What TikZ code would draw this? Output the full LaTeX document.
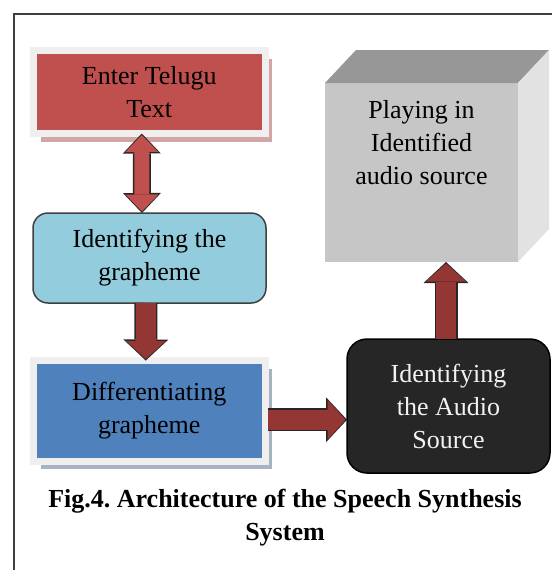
\documentclass[tikz,border=0pt]{standalone}
\usepackage{fontspec}
\setmainfont{Liberation Serif}
\usetikzlibrary{arrows.meta,shadows}
\definecolor{boxred}{HTML}{C0504D}
\definecolor{arrred}{HTML}{943634}
\definecolor{shred}{HTML}{D3A5A5}
\definecolor{boxcyan}{HTML}{93CDDD}
\definecolor{boxblue}{HTML}{4F81BD}
\definecolor{shblue}{HTML}{A8B3C2}
\definecolor{framegray}{HTML}{EFEFEF}
\definecolor{cubefront}{HTML}{C6C6C6}
\definecolor{cubetop}{HTML}{979797}
\definecolor{cubeside}{HTML}{E2E2E2}
\definecolor{darkbox}{HTML}{262626}
\frenchspacing

\begin{document}
\begin{tikzpicture}[
x=1pt, y=-1pt,
every node/.style={font=\fontsize{26}{33}\selectfont, align=center, inner sep=0pt, outer sep=0pt}
]

\tikzstyle{fr} = [draw=framegray, line width=7pt, minimum width=231.5pt]
\tikzstyle{rb} = [rounded corners=15pt, draw=black!75, line width=1.5pt]
\tikzstyle{blk} = [rounded corners=20pt, draw=black, line width=1.5pt, fill=darkbox, text=white!95!black]
\tikzstyle{arr} = [line width=20pt, draw=arrred, shorten >=1.5pt,
  -{Triangle[width=40pt,length=18pt,line width=0pt]},
  preaction={draw=black!85, line width=23pt, shorten >=0pt,
    -{Triangle[width=45pt,length=21pt,line width=0pt]}}]
\tikzstyle{darr} = [line width=15pt, draw=boxred, shorten >=1.5pt, shorten <=1.5pt,
  {Triangle[width=33pt,length=17pt,line width=0pt]}-{Triangle[width=33pt,length=17pt,line width=0pt]},
  preaction={draw=black!85, line width=18pt, shorten >=0pt, shorten <=0pt,
    {Triangle[width=38pt,length=20pt,line width=0pt]}-{Triangle[width=38pt,length=20pt,line width=0pt]}}]

\useasboundingbox (0,0) rectangle (552,570);

% frame
\draw[line width=1.5pt, black!75] (14,570) -- (14,14) -- (552,14);

% left column
\node[fr, fill=boxred, minimum height=83pt,
  drop shadow={shadow xshift=7pt, shadow yshift=-8pt, fill=shred, opacity=1}]
  (enter) at (149.25,92) {Enter Telugu\\Text};
\node[rb, fill=boxcyan, minimum width=233pt, minimum height=90pt]
  (ident) at (149.5,258) {Identifying the\\grapheme};
\node[fr, fill=boxblue, minimum height=100.5pt,
  drop shadow={shadow xshift=7pt, shadow yshift=-8pt, fill=shblue, opacity=1}]
  (diff) at (149.25,410.75) {Differentiating\\grapheme};

% right column
\node[blk, minimum width=203pt, minimum height=134pt]
  (audio) at (448.5,406) {Identifying\\the Audio\\Source};

% cube
\node[fill=cubefront, minimum width=193pt, minimum height=179pt] (play) at (421.5,172.5) {};
\fill[cubetop] (play.north west) -- ([shift={(31,-33)}]play.north west)
  -- ([shift={(31,-33)}]play.north east) -- (play.north east) -- cycle;
\fill[cubeside] (play.north east) -- ([shift={(31,-33)}]play.north east)
  -- ([shift={(31,-33)}]play.south east) -- (play.south east) -- cycle;
\node[anchor=north] (playtxt) at ([yshift=-17pt]play.north) {Playing in\\Identified\\audio source};

% arrows
\draw[darr] ([xshift=-7.5pt]enter.south) -- ([xshift=-7.5pt]ident.north);
\draw[arr] ([xshift=-3.5pt]ident.south) -- ([xshift=-3.5pt]diff.north);
\draw[arr, shorten <=3pt] ([yshift=-9pt]diff.east) -- ([yshift=-9pt]diff.east -| audio.west);
\draw[arr] ([xshift=-2.5pt]audio.north) -- ([xshift=-2.5pt]audio.north |- play.south);

% caption
\node[font=\bfseries\fontsize{26}{33}\selectfont] (caption) at (285,518)
  {Fig.4. Architecture of the Speech Synthesis\\System};

\end{tikzpicture}
\end{document}
